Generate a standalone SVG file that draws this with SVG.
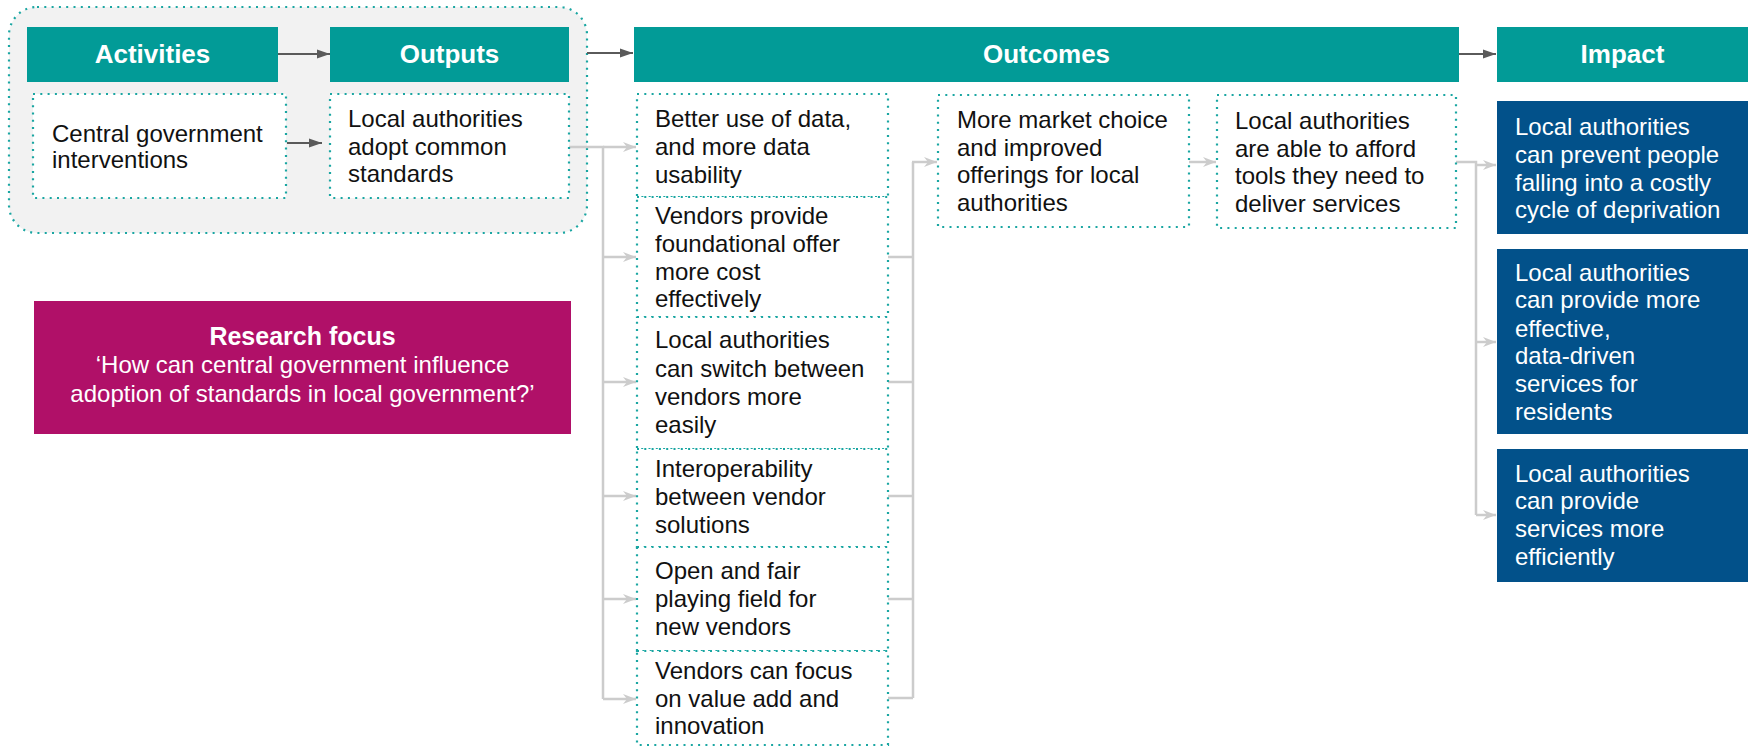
<svg xmlns="http://www.w3.org/2000/svg" width="1752" height="746" viewBox="0 0 1752 746">
  <defs>
    <style>
      .hdr { fill: #029b97; }
      .hdr-t { font-family: "Liberation Sans", Arial, sans-serif; font-weight: bold; font-size: 26px; fill: #ffffff; text-anchor: middle; }
      .box { fill: #ffffff; stroke: #1aa6a2; stroke-width: 2.2; stroke-dasharray: 2 5.3; }
      .txt { font-family: "Liberation Sans", Arial, sans-serif; font-size: 24px; fill: #111111; }
      .imp { fill: #02518a; }
      .imp-t { font-family: "Liberation Sans", Arial, sans-serif; font-size: 24px; fill: #ffffff; }
      .dark { fill: none; stroke: #5a5a5a; stroke-width: 2; }
      .lite { fill: none; stroke: #cccccc; stroke-width: 2.5; }
    </style>
    <marker id="arrDark" markerUnits="userSpaceOnUse" markerWidth="14" markerHeight="12" refX="13" refY="6" orient="auto">
      <path d="M0,1.5 L13,6 L0,10.5 z" fill="#5a5a5a"/>
    </marker>
    <marker id="arrLite" markerUnits="userSpaceOnUse" markerWidth="14" markerHeight="12" refX="13" refY="6" orient="auto">
      <path d="M0,1 L13,6 L0,11 L4,6 z" fill="#cccccc"/>
    </marker>
  </defs>

  <rect width="1752" height="746" fill="#ffffff"/>

  <!-- Activities / Outputs group panel -->
  <g id="group-panel">
    <rect x="9" y="7" width="578" height="226" rx="28" ry="28" fill="#f2f2f2" stroke="#1aa6a2" stroke-width="2.2" stroke-dasharray="2 5.3"/>
  </g>

  <!-- Column headers -->
  <g id="hdr-activities">
    <rect class="hdr" x="27" y="27" width="251" height="55"/>
    <text class="hdr-t" x="152.5" y="63">Activities</text>
  </g>
  <g id="hdr-outputs">
    <rect class="hdr" x="330" y="27" width="239" height="55"/>
    <text class="hdr-t" x="449.5" y="63">Outputs</text>
  </g>
  <g id="hdr-outcomes">
    <rect class="hdr" x="634" y="27" width="825" height="55"/>
    <text class="hdr-t" x="1046.5" y="63">Outcomes</text>
  </g>
  <g id="hdr-impact">
    <rect class="hdr" x="1497" y="27" width="251" height="55"/>
    <text class="hdr-t" x="1622.5" y="63">Impact</text>
  </g>

  <!-- Connectors -->
  <g id="connectors">
    <line class="dark" x1="278" y1="54" x2="330" y2="54" marker-end="url(#arrDark)"/>
    <line class="dark" x1="587" y1="53" x2="633" y2="53" marker-end="url(#arrDark)"/>
    <line class="dark" x1="1459" y1="54" x2="1496" y2="54" marker-end="url(#arrDark)"/>
    <line class="dark" x1="287" y1="143" x2="322" y2="143" marker-end="url(#arrDark)"/>

    <!-- outputs to first outcome column -->
    <path class="lite" d="M569,147 H603 V699"/>
    <line class="lite" x1="603" y1="147" x2="636" y2="147" marker-end="url(#arrLite)"/>
    <line class="lite" x1="603" y1="257" x2="636" y2="257" marker-end="url(#arrLite)"/>
    <line class="lite" x1="603" y1="382" x2="636" y2="382" marker-end="url(#arrLite)"/>
    <line class="lite" x1="603" y1="496" x2="636" y2="496" marker-end="url(#arrLite)"/>
    <line class="lite" x1="603" y1="599" x2="636" y2="599" marker-end="url(#arrLite)"/>
    <line class="lite" x1="603" y1="699" x2="636" y2="699" marker-end="url(#arrLite)"/>

    <!-- first outcome column to market choice -->
    <path class="lite" d="M888,257 H913 M888,382 H913 M888,496 H913 M888,599 H913 M888,698 H913 M913,698 V162"/>
    <line class="lite" x1="912" y1="162" x2="937" y2="162" marker-end="url(#arrLite)"/>

    <!-- market choice to affordability -->
    <line class="lite" x1="1189" y1="162" x2="1216" y2="162" marker-end="url(#arrLite)"/>

    <!-- affordability to impacts -->
    <path class="lite" d="M1456,162 H1476 V515"/>
    <line class="lite" x1="1476" y1="165" x2="1496" y2="165" marker-end="url(#arrLite)"/>
    <line class="lite" x1="1476" y1="342" x2="1496" y2="342" marker-end="url(#arrLite)"/>
    <line class="lite" x1="1476" y1="515" x2="1496" y2="515" marker-end="url(#arrLite)"/>
  </g>

  <!-- Activities -->
  <g id="activity-central">
    <rect class="box" x="33" y="94" width="253" height="104"/>
    <text class="txt" x="52" y="142">Central government</text>
    <text class="txt" x="52" y="168">interventions</text>
  </g>

  <!-- Outputs -->
  <g id="output-standards">
    <rect class="box" x="330" y="94" width="239" height="104"/>
    <text class="txt" x="348" y="127">Local authorities</text>
    <text class="txt" x="348" y="154.5">adopt common</text>
    <text class="txt" x="348" y="182">standards</text>
  </g>

  <!-- Outcomes: first column -->
  <g id="outcome-data">
    <rect class="box" x="637" y="94" width="251" height="103"/>
    <text class="txt" x="655" y="127">Better use of data,</text>
    <text class="txt" x="655" y="155">and more data</text>
    <text class="txt" x="655" y="183">usability</text>
  </g>
  <g id="outcome-cost">
    <rect class="box" x="637" y="197" width="251" height="120"/>
    <text class="txt" x="655" y="224">Vendors provide</text>
    <text class="txt" x="655" y="252">foundational offer</text>
    <text class="txt" x="655" y="280">more cost</text>
    <text class="txt" x="655" y="307">effectively</text>
  </g>
  <g id="outcome-switch">
    <rect class="box" x="637" y="317" width="251" height="132"/>
    <text class="txt" x="655" y="348">Local authorities</text>
    <text class="txt" x="655" y="377">can switch between</text>
    <text class="txt" x="655" y="405">vendors more</text>
    <text class="txt" x="655" y="433">easily</text>
  </g>
  <g id="outcome-interop">
    <rect class="box" x="637" y="449" width="251" height="98"/>
    <text class="txt" x="655" y="477">Interoperability</text>
    <text class="txt" x="655" y="505">between vendor</text>
    <text class="txt" x="655" y="533">solutions</text>
  </g>
  <g id="outcome-fair">
    <rect class="box" x="637" y="547" width="251" height="104"/>
    <text class="txt" x="655" y="579">Open and fair</text>
    <text class="txt" x="655" y="607">playing field for</text>
    <text class="txt" x="655" y="635">new vendors</text>
  </g>
  <g id="outcome-innovation">
    <rect class="box" x="637" y="651" width="251" height="94"/>
    <text class="txt" x="655" y="679">Vendors can focus</text>
    <text class="txt" x="655" y="707">on value add and</text>
    <text class="txt" x="655" y="734">innovation</text>
  </g>

  <!-- Outcomes: later columns -->
  <g id="outcome-market">
    <rect class="box" x="938" y="95" width="251" height="132"/>
    <text class="txt" x="957" y="128">More market choice</text>
    <text class="txt" x="957" y="156">and improved</text>
    <text class="txt" x="957" y="183">offerings for local</text>
    <text class="txt" x="957" y="211">authorities</text>
  </g>
  <g id="outcome-afford">
    <rect class="box" x="1217" y="95" width="239" height="133"/>
    <text class="txt" x="1235" y="129">Local authorities</text>
    <text class="txt" x="1235" y="157">are able to afford</text>
    <text class="txt" x="1235" y="184">tools they need to</text>
    <text class="txt" x="1235" y="212">deliver services</text>
  </g>

  <!-- Impacts -->
  <g id="impact-deprivation">
    <rect class="imp" x="1497" y="101" width="251" height="133"/>
    <text class="imp-t" x="1515" y="135">Local authorities</text>
    <text class="imp-t" x="1515" y="163">can prevent people</text>
    <text class="imp-t" x="1515" y="191">falling into a costly</text>
    <text class="imp-t" x="1515" y="218">cycle of deprivation</text>
  </g>
  <g id="impact-effective">
    <rect class="imp" x="1497" y="249" width="251" height="185"/>
    <text class="imp-t" x="1515" y="281">Local authorities</text>
    <text class="imp-t" x="1515" y="308">can provide more</text>
    <text class="imp-t" x="1515" y="337">effective,</text>
    <text class="imp-t" x="1515" y="364">data-driven</text>
    <text class="imp-t" x="1515" y="392">services for</text>
    <text class="imp-t" x="1515" y="420">residents</text>
  </g>
  <g id="impact-efficient">
    <rect class="imp" x="1497" y="449" width="251" height="133"/>
    <text class="imp-t" x="1515" y="482">Local authorities</text>
    <text class="imp-t" x="1515" y="509">can provide</text>
    <text class="imp-t" x="1515" y="537">services more</text>
    <text class="imp-t" x="1515" y="565">efficiently</text>
  </g>

  <!-- Research focus callout -->
  <g id="research-focus">
    <rect x="34" y="301" width="537" height="133" fill="#b01068"/>
    <text x="302.5" y="345" font-family="'Liberation Sans', Arial, sans-serif" font-size="25" font-weight="bold" fill="#ffffff" text-anchor="middle">Research focus</text>
    <text x="302.5" y="373" font-family="'Liberation Sans', Arial, sans-serif" font-size="24" fill="#ffffff" text-anchor="middle">‘How can central government influence</text>
    <text x="302.5" y="402" font-family="'Liberation Sans', Arial, sans-serif" font-size="24" fill="#ffffff" text-anchor="middle">adoption of standards in local government?’</text>
  </g>
</svg>
